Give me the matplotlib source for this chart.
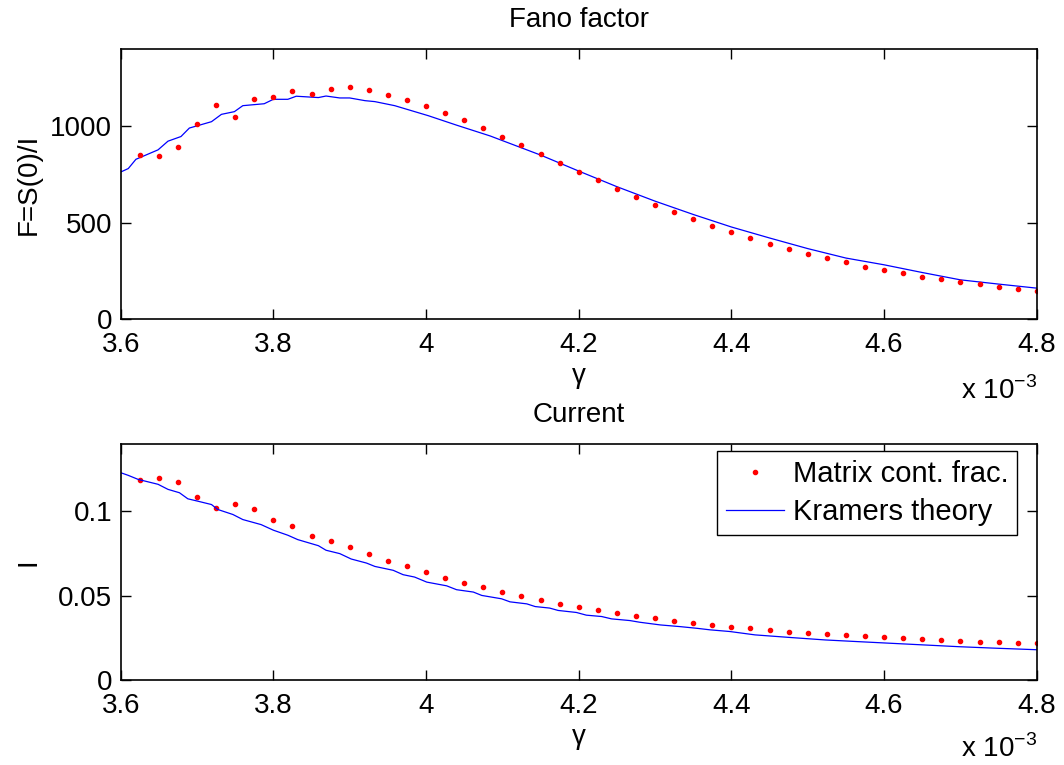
import numpy as np
import matplotlib
matplotlib.use('Agg')
import matplotlib.pyplot as plt

# matrix continued fraction results (gamma in units of 1e-3)
gamma_mcf = [3.625, 3.650, 3.675, 3.700, 3.725, 3.750, 3.775, 3.800, 3.825, 3.850,
             3.875, 3.900, 3.925, 3.950, 3.975, 4.000, 4.025, 4.050, 4.075, 4.100,
             4.125, 4.150, 4.175, 4.200, 4.225, 4.250, 4.275, 4.300, 4.325, 4.350,
             4.375, 4.400, 4.425, 4.450, 4.475, 4.500, 4.525, 4.550, 4.575, 4.600,
             4.625, 4.650, 4.675, 4.700, 4.725, 4.750, 4.775, 4.800]
fano_mcf = [849, 845, 892, 1010, 1108, 1049, 1142, 1149, 1182, 1168,
            1194, 1205, 1188, 1163, 1135, 1106, 1069, 1031, 990, 944,
            901, 854, 809, 760, 719, 674, 632, 592, 554, 517,
            483, 450, 420, 391, 365, 339, 314, 293, 272, 253,
            236, 219, 205, 191, 179, 167, 155, 144]
current_mcf = [0.1186, 0.1200, 0.1176, 0.1087, 0.1020, 0.1042, 0.1014, 0.0952, 0.0915, 0.0857,
               0.0823, 0.0788, 0.0746, 0.0708, 0.0675, 0.0639, 0.0607, 0.0577, 0.0552, 0.0524,
               0.0500, 0.0476, 0.0454, 0.0434, 0.0417, 0.0399, 0.0383, 0.0367, 0.0353, 0.0341,
               0.0329, 0.0317, 0.0307, 0.0298, 0.0288, 0.0282, 0.0274, 0.0268, 0.0260, 0.0254,
               0.0248, 0.0242, 0.0238, 0.0232, 0.0228, 0.0226, 0.0222, 0.0218]

# Kramers theory curves
gamma_kt_fano = [3.600, 3.610, 3.620, 3.649, 3.662, 3.679, 3.690, 3.719, 3.732, 3.749,
                 3.760, 3.788, 3.800, 3.819, 3.830, 3.859, 3.869, 3.887, 3.900, 3.920,
                 3.933, 3.959, 4.003, 4.040, 4.084, 4.150, 4.200, 4.250, 4.300, 4.350,
                 4.400, 4.450, 4.500, 4.550, 4.600, 4.650, 4.700, 4.750, 4.800]
fano_kt = [762, 780, 828, 877, 922, 946, 990, 1023, 1061, 1075,
           1106, 1116, 1139, 1139, 1155, 1148, 1156, 1146, 1146, 1132,
           1127, 1106, 1054, 1005, 949, 850, 767, 686, 611, 542,
           477, 420, 365, 316, 281, 241, 203, 181, 160]
gamma_kt_cur = [3.600, 3.610, 3.623, 3.649, 3.662, 3.677, 3.688, 3.701, 3.719, 3.727,
                3.747, 3.760, 3.784, 3.800, 3.819, 3.832, 3.859, 3.869, 3.887, 3.902,
                3.922, 3.933, 3.957, 3.970, 3.985, 4.001, 4.027, 4.040, 4.062, 4.073,
                4.099, 4.110, 4.132, 4.143, 4.162, 4.173, 4.197, 4.210, 4.230, 4.243,
                4.267, 4.280, 4.307, 4.333, 4.355, 4.372, 4.398, 4.431, 4.479, 4.523,
                4.566, 4.610, 4.654, 4.698, 4.741, 4.800]
current_kt = [0.1230, 0.1214, 0.1190, 0.1161, 0.1131, 0.1111, 0.1075, 0.1061, 0.1041, 0.1012,
              0.0982, 0.0952, 0.0922, 0.0889, 0.0859, 0.0833, 0.0797, 0.0770, 0.0750, 0.0718,
              0.0694, 0.0674, 0.0651, 0.0625, 0.0611, 0.0581, 0.0559, 0.0536, 0.0522, 0.0502,
              0.0482, 0.0464, 0.0452, 0.0436, 0.0427, 0.0413, 0.0401, 0.0385, 0.0377, 0.0363,
              0.0353, 0.0343, 0.0327, 0.0317, 0.0307, 0.0298, 0.0288, 0.0268, 0.0252, 0.0238,
              0.0228, 0.0218, 0.0208, 0.0198, 0.0190, 0.0180]

xticks = [3.6, 3.8, 4.0, 4.2, 4.4, 4.6, 4.8]
xticklabels = ['3.6', '3.8', '4', '4.2', '4.4', '4.6', '4.8']

fs = 20
plt.rcParams['font.family'] = ['Liberation Sans', 'DejaVu Sans']
plt.rcParams['font.size'] = fs
plt.rcParams['mathtext.fontset'] = 'custom'
plt.rcParams['mathtext.rm'] = 'Liberation Sans'

fig = plt.figure(figsize=(10.64, 7.65), dpi=100)
ax1 = fig.add_axes([0.1134, 0.583, 0.861, 0.353])
ax2 = fig.add_axes([0.1134, 0.111, 0.861, 0.3086])

def style(ax, off_y):
    ax.set_xlim(3.6, 4.8)
    ax.set_xticks(xticks)
    ax.set_xticklabels(xticklabels)
    ax.tick_params(direction='in', top=True, right=True, length=7, width=1, labelsize=fs)
    ax.tick_params(axis='x', pad=9)
    ax.tick_params(axis='y', pad=6)
    for s in ax.spines.values():
        s.set_linewidth(1.2)
    ax.set_xlabel('γ', labelpad=4)
    ax.text(1.0, off_y, r'x 10$^{-3}$', transform=ax.transAxes,
            ha='right', va='center', fontsize=fs)

# Fano factor
ax1.plot(gamma_kt_fano, fano_kt, '-', color='#0000ff', lw=0.9)
ax1.plot(gamma_mcf, fano_mcf, '.', color='#ff0000', ms=6)
ax1.set_ylim(0, 1400)
ax1.set_yticks([0, 500, 1000])
ax1.set_ylabel('F=S(0)/I', labelpad=6)
ax1.set_title('Fano factor', fontsize=fs, pad=16)
style(ax1, -0.265)

# current
ax2.plot(gamma_mcf, current_mcf, '.', color='#ff0000', ms=6, label='Matrix cont. frac.')
ax2.plot(gamma_kt_cur, current_kt, '-', color='#0000ff', lw=0.9, label='Kramers theory')
ax2.set_ylim(0, 0.14)
ax2.set_yticks([0, 0.05, 0.1])
ax2.set_yticklabels(['0', '0.05', '0.1'])
ax2.set_ylabel('I', labelpad=12)
ax2.set_title('Current', fontsize=fs, pad=16)
leg = ax2.legend(loc='upper right', bbox_to_anchor=(0.9785, 0.97), borderaxespad=0,
                 fancybox=False, edgecolor='black', fontsize=21,
                 handlelength=2.0, borderpad=0.3, labelspacing=0.35,
                 handletextpad=0.3, framealpha=1)
leg.get_frame().set_linewidth(1.0)
style(ax2, -0.29)

plt.savefig('out.png', dpi=100)
